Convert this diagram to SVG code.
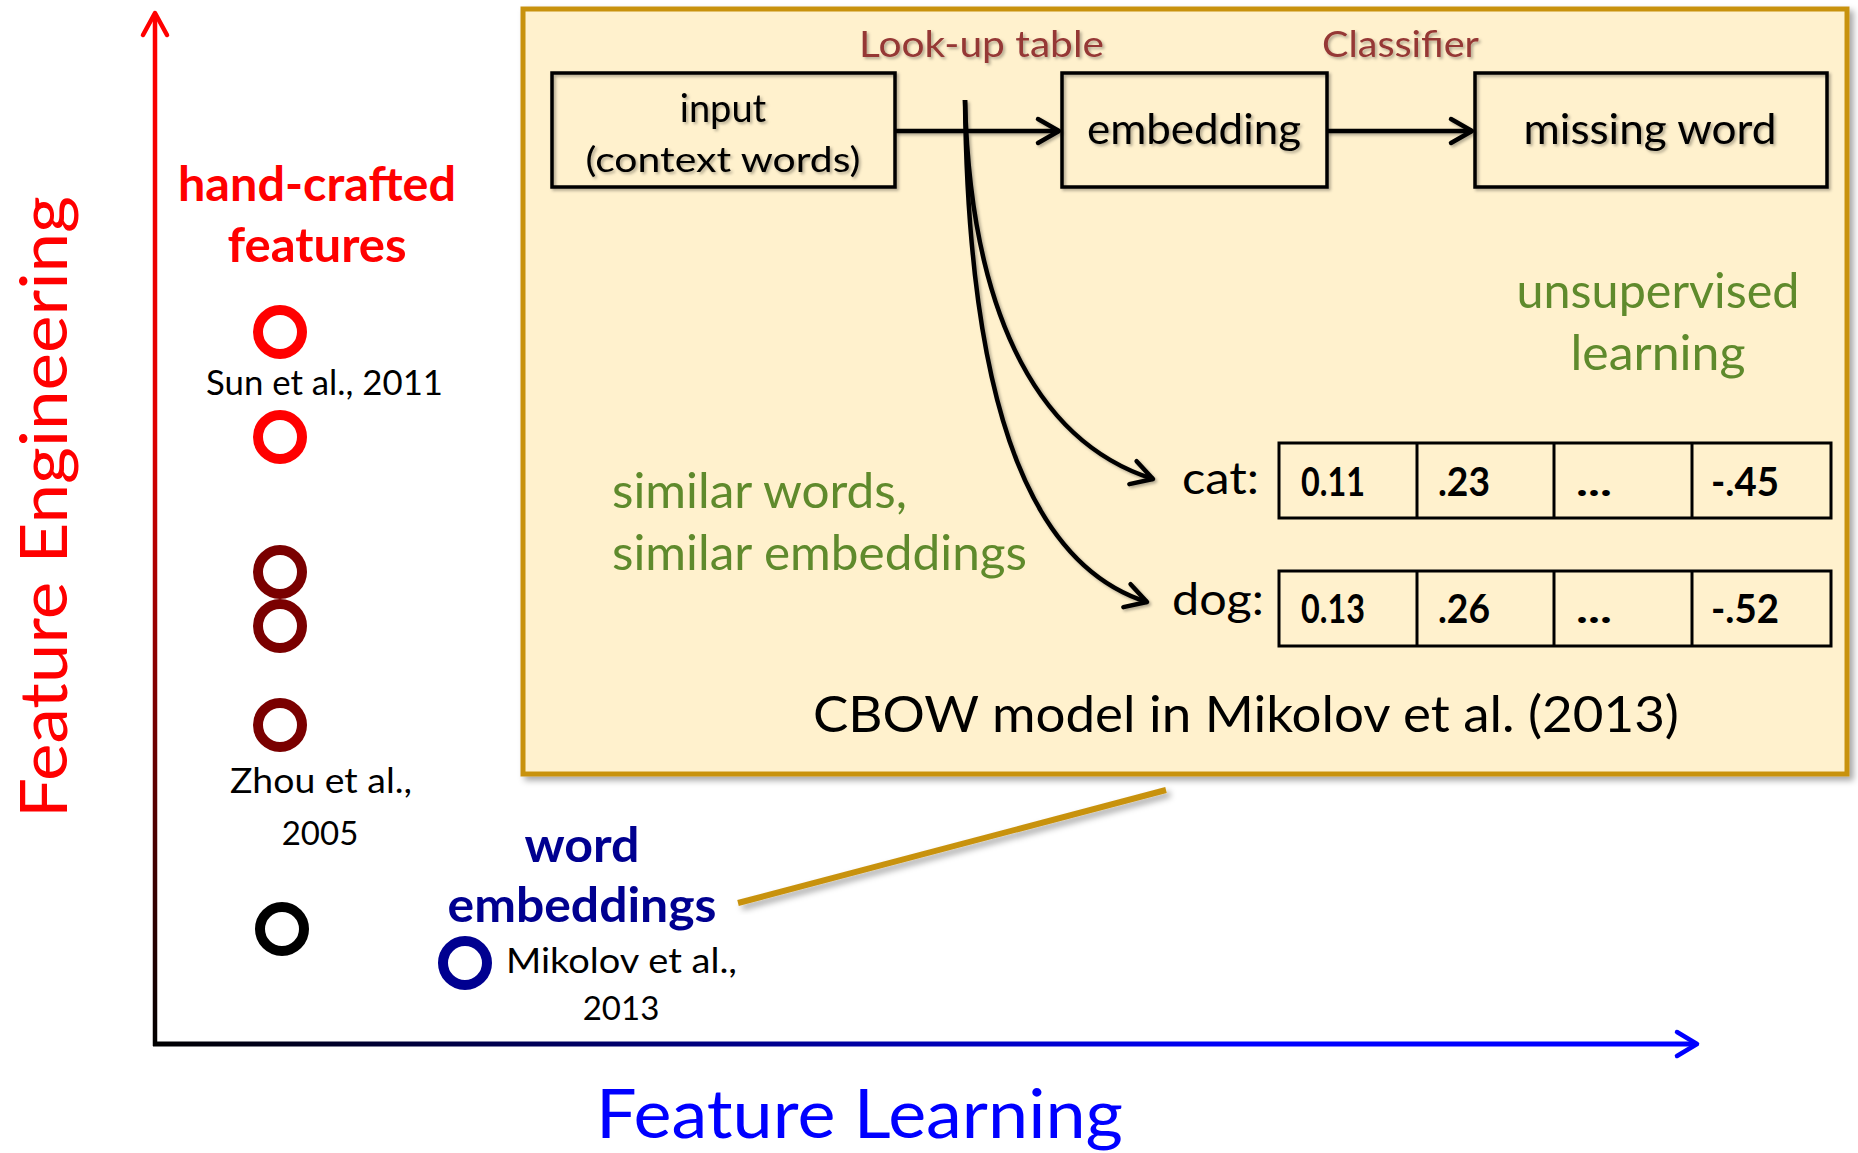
<svg xmlns="http://www.w3.org/2000/svg" width="1858" height="1153" viewBox="0 0 1858 1153">
<style>
text{font-family:Lato,"Open Sans","Liberation Sans",sans-serif;}
.b{font-weight:bold;}
.blk{fill:#000;}
.grn{fill:#5f8a2c;}
.lab{fill:#953735;}
.box{fill:none;stroke:#000;stroke-width:3.5;}
.cell{fill:none;stroke:#000;stroke-width:3;}
.ring{fill:none;stroke-width:10;}
.conn{fill:none;stroke:#000;stroke-width:4.5;}
</style>
<defs>
<linearGradient id="gy" gradientUnits="userSpaceOnUse" x1="0" y1="12" x2="0" y2="1046">
<stop offset="0" stop-color="#ff0000"/><stop offset="0.4" stop-color="#e00000"/><stop offset="1" stop-color="#000000"/>
</linearGradient>
<linearGradient id="gx" gradientUnits="userSpaceOnUse" x1="155" y1="0" x2="1250" y2="0">
<stop offset="0" stop-color="#000000"/><stop offset="1" stop-color="#0000ff"/>
</linearGradient>
<filter id="sh" x="-5%" y="-5%" width="115%" height="115%">
<feDropShadow dx="4" dy="4" stdDeviation="3" flood-color="#000" flood-opacity="0.35"/>
</filter>
<filter id="tsh" x="-10%" y="-20%" width="130%" height="150%">
<feDropShadow dx="2" dy="2" stdDeviation="1.5" flood-color="#000" flood-opacity="0.3"/>
</filter>
<marker id="chev" markerUnits="userSpaceOnUse" markerWidth="40" markerHeight="40" viewBox="-30 -20 40 40" refX="0" refY="0" orient="auto" overflow="visible">
<path d="M-21,-12 L0,0 L-21,12" fill="none" stroke="#000" stroke-width="4.5" stroke-linecap="round" stroke-linejoin="round"/>
</marker>
</defs>

<g id="axes">
<line x1="155" y1="1046" x2="155" y2="14" stroke="url(#gy)" stroke-width="4.5"/>
<path d="M143,35 L155,13 L167,35" fill="none" stroke="#ff0000" stroke-width="4.5" stroke-linecap="round" stroke-linejoin="round"/>
<line x1="153" y1="1044" x2="1695" y2="1044" stroke="url(#gx)" stroke-width="5"/>
<path d="M1677,1032 L1697,1044 L1677,1056" fill="none" stroke="#0000ff" stroke-width="4.5" stroke-linecap="round" stroke-linejoin="round"/>
<text x="596" y="1138" font-size="68" fill="#0000ff" textLength="527" lengthAdjust="spacingAndGlyphs">Feature Learning</text>
<text transform="translate(67,818) rotate(-90)" x="0" y="0" font-size="65" fill="#ff0000" textLength="622" lengthAdjust="spacingAndGlyphs">Feature Engineering</text>
</g>

<g id="left-labels">
<text class="b" x="317" y="201" font-size="47" fill="#ff0000" text-anchor="middle" textLength="278" lengthAdjust="spacingAndGlyphs">hand-crafted</text>
<text class="b" x="317" y="262" font-size="47" fill="#ff0000" text-anchor="middle" textLength="179" lengthAdjust="spacingAndGlyphs">features</text>
<text x="206" y="395" font-size="35" class="blk" textLength="237" lengthAdjust="spacingAndGlyphs">Sun et al., 2011</text>
<text x="230" y="793" font-size="35" class="blk" textLength="182" lengthAdjust="spacingAndGlyphs">Zhou et al.,</text>
<text x="320" y="845" font-size="33" class="blk" text-anchor="middle">2005</text>
<text class="b" x="582" y="862" font-size="48" fill="#000090" text-anchor="middle" textLength="115" lengthAdjust="spacingAndGlyphs">word</text>
<text class="b" x="582" y="922" font-size="48" fill="#000090" text-anchor="middle" textLength="269" lengthAdjust="spacingAndGlyphs">embeddings</text>
<text x="506" y="973" font-size="35" class="blk" textLength="231" lengthAdjust="spacingAndGlyphs">Mikolov et al.,</text>
<text x="621" y="1020" font-size="33" class="blk" text-anchor="middle">2013</text>
</g>

<g id="points">
<circle class="ring" cx="280" cy="332" r="22" stroke="#ff0000"/>
<circle class="ring" cx="280" cy="437" r="22" stroke="#ff0000"/>
<circle class="ring" cx="280" cy="572" r="22" stroke="#7a0000"/>
<circle class="ring" cx="280" cy="626" r="22" stroke="#7a0000"/>
<circle class="ring" cx="280" cy="725" r="22" stroke="#7a0000"/>
<circle class="ring" cx="282" cy="929" r="22" stroke="#000000"/>
<circle class="ring" cx="465" cy="963" r="22" stroke="#000090"/>
</g>

<g id="callout">
<line x1="1166" y1="790" x2="738" y2="903" stroke="#c8920e" stroke-width="6" filter="url(#sh)"/>
</g>

<g id="cbow-panel">
<rect x="523" y="9" width="1324" height="765" fill="#fff1cd" stroke="#c8920e" stroke-width="5" filter="url(#sh)"/>
<text class="lab" x="859" y="57" font-size="36" textLength="245" lengthAdjust="spacingAndGlyphs" filter="url(#tsh)">Look-up table</text>
<text class="lab" x="1322" y="57" font-size="36" textLength="157" lengthAdjust="spacingAndGlyphs" filter="url(#tsh)">Classifier</text>
<text class="grn" x="1658" y="308" font-size="49" text-anchor="middle" textLength="283" lengthAdjust="spacingAndGlyphs">unsupervised</text>
<text class="grn" x="1658" y="370" font-size="49" text-anchor="middle" textLength="175" lengthAdjust="spacingAndGlyphs">learning</text>
<text class="grn" x="612" y="508" font-size="49" textLength="295" lengthAdjust="spacingAndGlyphs">similar words,</text>
<text class="grn" x="612" y="570" font-size="49" textLength="415" lengthAdjust="spacingAndGlyphs">similar embeddings</text>
<text class="blk" x="813" y="732" font-size="50" textLength="866" lengthAdjust="spacingAndGlyphs">CBOW model in Mikolov et al. (2013)</text>
</g>

<g id="input" filter="url(#tsh)">
<rect class="box" x="552" y="73" width="343" height="114"/>
<text class="blk" x="723" y="122" font-size="38" text-anchor="middle">input</text>
<text class="blk" x="723" y="172" font-size="34" text-anchor="middle" textLength="275" lengthAdjust="spacingAndGlyphs">(context words)</text>
</g>

<g id="embedding" filter="url(#tsh)">
<rect class="box" x="1062" y="73" width="265" height="114"/>
<text class="blk" x="1194" y="144" font-size="42" text-anchor="middle" textLength="214" lengthAdjust="spacingAndGlyphs">embedding</text>
</g>

<g id="missing-word" filter="url(#tsh)">
<rect class="box" x="1475" y="73" width="352" height="114"/>
<text class="blk" x="1650" y="144" font-size="42" text-anchor="middle" textLength="253" lengthAdjust="spacingAndGlyphs">missing word</text>
</g>

<g id="cat-vector">
<text class="blk" x="1182" y="494" font-size="44" textLength="77" lengthAdjust="spacingAndGlyphs">cat:</text>
<rect class="cell" x="1279" y="443" width="552" height="75"/>
<line class="cell" x1="1417" y1="443" x2="1417" y2="518"/>
<line class="cell" x1="1554" y1="443" x2="1554" y2="518"/>
<line class="cell" x1="1692" y1="443" x2="1692" y2="518"/>
<text class="b blk" x="1301" y="496" font-size="40" textLength="64" lengthAdjust="spacingAndGlyphs">0.11</text>
<text class="b blk" x="1438" y="496" font-size="40" textLength="52" lengthAdjust="spacingAndGlyphs">.23</text>
<text class="b blk" x="1576" y="496" font-size="40" textLength="36" lengthAdjust="spacingAndGlyphs">...</text>
<text class="b blk" x="1711" y="496" font-size="40" textLength="68" lengthAdjust="spacingAndGlyphs">-.45</text>
</g>

<g id="dog-vector">
<text class="blk" x="1172" y="615" font-size="44" textLength="92" lengthAdjust="spacingAndGlyphs">dog:</text>
<rect class="cell" x="1279" y="571" width="552" height="75"/>
<line class="cell" x1="1417" y1="571" x2="1417" y2="646"/>
<line class="cell" x1="1554" y1="571" x2="1554" y2="646"/>
<line class="cell" x1="1692" y1="571" x2="1692" y2="646"/>
<text class="b blk" x="1301" y="623" font-size="40" textLength="64" lengthAdjust="spacingAndGlyphs">0.13</text>
<text class="b blk" x="1438" y="623" font-size="40" textLength="52" lengthAdjust="spacingAndGlyphs">.26</text>
<text class="b blk" x="1576" y="623" font-size="40" textLength="36" lengthAdjust="spacingAndGlyphs">...</text>
<text class="b blk" x="1711" y="623" font-size="40" textLength="68" lengthAdjust="spacingAndGlyphs">-.52</text>
</g>

<g id="connectors" filter="url(#tsh)">
<line class="conn" x1="895" y1="131" x2="1059" y2="131" marker-end="url(#chev)"/>
<line class="conn" x1="1327" y1="131" x2="1472" y2="131" marker-end="url(#chev)"/>
<path class="conn" d="M965,100 C970,300 1030,440 1153,479" marker-end="url(#chev)"/>
<path class="conn" d="M965,100 C968,380 1020,562 1147,602" marker-end="url(#chev)"/>
</g>
</svg>
